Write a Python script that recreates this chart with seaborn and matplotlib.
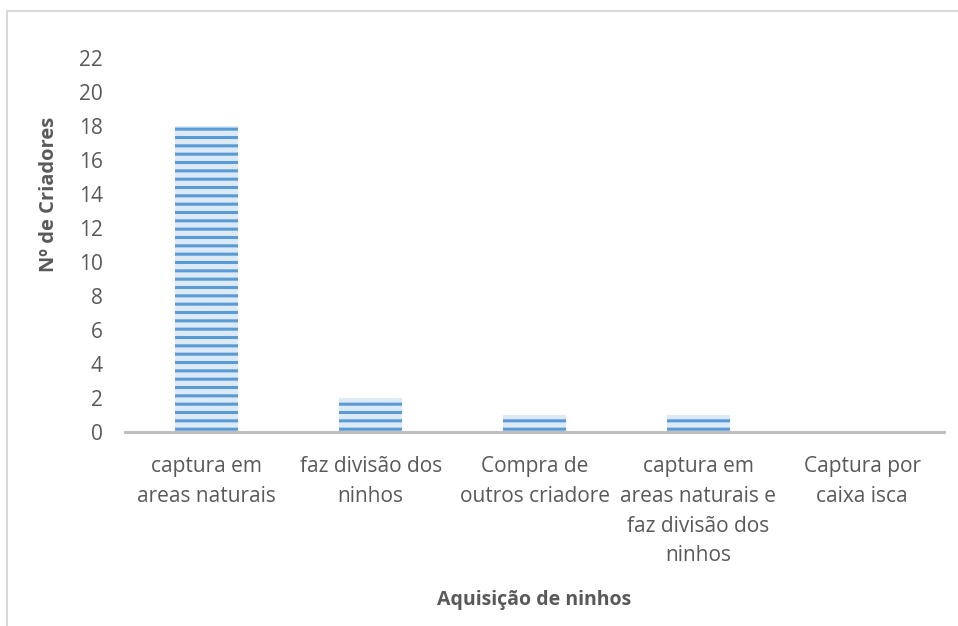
import matplotlib
matplotlib.use("Agg")
import matplotlib.pyplot as plt
import seaborn as sns
from matplotlib.lines import Line2D

# data
categorias = [
    "captura em\nareas naturais",
    "faz divisão dos\nninhos",
    "Compra de\noutros criadore",
    "captura em\nareas naturais e\nfaz divisão dos\nninhos",
    "Captura por\ncaixa isca",
]
criadores = [18, 2, 1, 1, 0]
yticks = list(range(0, 23, 2))

sns.set_theme(style="white")
plt.rcParams["font.family"] = ["Open Sans", "DejaVu Sans"]
plt.rcParams["hatch.linewidth"] = 2.2

text_col = "#595959"
fs = 15

fig = plt.figure(figsize=(9.58, 6.26), dpi=100)
ax = fig.add_axes([125 / 958, 1 - 432 / 626, (944 - 125) / 958, (432 - 58) / 626])

sns.barplot(x=categorias, y=criadores, color="#dce9f7", width=0.385,
            saturation=1, ax=ax)
for bar in ax.patches:
    bar.set_hatch("--")
    bar.set_edgecolor("#5b9bd5")
    bar.set_linewidth(0)

ax.set_xlim(-0.5, len(categorias) - 0.5)
ax.set_ylim(0, 22)
ax.set_yticks(yticks)
ax.set_yticklabels([str(t) for t in yticks])

for side in ["top", "right", "left"]:
    ax.spines[side].set_visible(False)
ax.spines["bottom"].set_color("#bfbfbf")
ax.spines["bottom"].set_linewidth(2.2)
ax.grid(False)

ax.tick_params(axis="y", length=0, pad=16, labelsize=fs, labelcolor=text_col)
ax.tick_params(axis="x", length=0, pad=17, labelsize=fs, labelcolor=text_col)
for lab in ax.get_xticklabels():
    lab.set_linespacing(1.56)
    lab.set_ha("center")
    lab.set_multialignment("center")

ax.set_ylabel("Nº de Criadores", fontsize=14.5, fontweight="bold", color=text_col)
ax.yaxis.set_label_coords(-0.081, 0.636)
ax.set_xlabel("Aquisição de ninhos", fontsize=14, fontweight="bold", color=text_col)
ax.xaxis.set_label_coords(0.5, -0.422)

# light frame of the chart area
fig.add_artist(Line2D([7 / 958, 7 / 958, 1.0], [0.0, 1 - 11 / 626, 1 - 11 / 626],
                      transform=fig.transFigure, color="#d9d9d9", linewidth=1.5))

fig.savefig("out.png", dpi=100)
